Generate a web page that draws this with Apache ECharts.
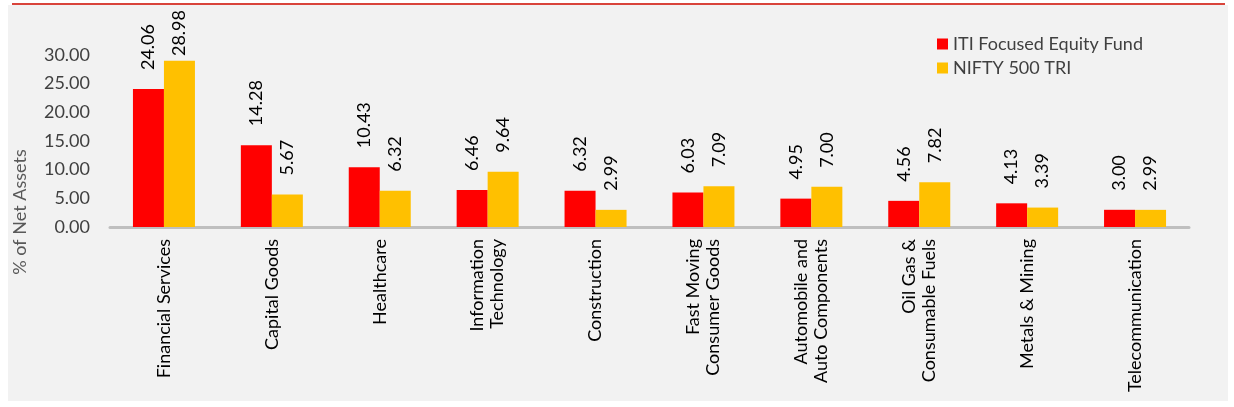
<!DOCTYPE html>
<html>
<head>
<meta charset="utf-8">
<script src="https://cdn.jsdelivr.net/npm/echarts@6/dist/echarts.min.js"></script>
<style>
html,body{margin:0;padding:0;background:#ffffff;}
#chart{width:1234px;height:407px;}
</style>
</head>
<body>
<div id="chart"></div>
<script>
const categories = [
  'Financial Services',
  'Capital Goods',
  'Healthcare',
  'Information\nTechnology',
  'Construction',
  'Fast Moving\nConsumer Goods',
  'Automobile and\nAuto Components',
  'Oil Gas &\nConsumable Fuels',
  'Metals & Mining',
  'Telecommunication'
];
const fundValues = [24.06, 14.28, 10.43, 6.46, 6.32, 6.03, 4.95, 4.56, 4.13, 3.00];
const indexValues = [28.98, 5.67, 6.32, 9.64, 2.99, 7.09, 7.00, 7.82, 3.39, 2.99];
const seriesNames = ['ITI Focused Equity Fund', 'NIFTY 500 TRI'];
const yAxisTitle = '% of Net Assets';

const FONT = 'Lato, "Open Sans", sans-serif';
const chart = echarts.init(document.getElementById('chart'));

const labelCfg = {
  show: true,
  position: 'top',
  rotate: 90,
  align: 'left',
  verticalAlign: 'middle',
  distance: 19,
  fontFamily: FONT,
  fontSize: 18,
  color: '#000000',
  formatter: p => p.value.toFixed(2)
};

chart.setOption({
  animation: false,
  backgroundColor: 'transparent',
  graphic: [
    { type: 'rect', silent: true, z: -10, shape: { x: 8, y: 5, width: 1220, height: 396 }, style: { fill: '#f2f2f2' } },
    { type: 'line', silent: true, z: -9, shape: { x1: 12, y1: 4, x2: 1225, y2: 4 }, style: { stroke: '#d9443b', lineWidth: 2 } },
    { type: 'text', silent: true, x: 20, y: 212, rotation: Math.PI / 2,
      style: { text: yAxisTitle, fill: '#595959', font: '18px ' + FONT, align: 'center', verticalAlign: 'middle' } }
  ],
  legend: {
    orient: 'vertical',
    left: 932,
    top: 30,
    itemWidth: 11,
    itemHeight: 11,
    itemGap: 6,
    icon: 'rect',
    textStyle: { fontFamily: FONT, fontSize: 18, color: '#404040' },
    data: seriesNames
  },
  grid: { left: 110, right: 45, top: 55, bottom: 180, containLabel: false },
  xAxis: {
    type: 'category',
    data: categories,
    axisLine: { show: true, lineStyle: { color: '#bfbfbf', width: 3 } },
    axisTick: { show: false },
    axisLabel: {
      rotate: 90,
      interval: 0,
      margin: 12,
      fontFamily: FONT,
      fontSize: 18,
      lineHeight: 20,
      color: '#000000'
    }
  },
  yAxis: {
    type: 'value',
    min: 0,
    max: 30,
    interval: 5,
    axisLine: { show: false },
    axisTick: { show: false },
    splitLine: { show: false },
    axisLabel: {
      margin: 20,
      fontFamily: FONT,
      fontSize: 18,
      color: '#404040',
      formatter: v => v.toFixed(2)
    }
  },
  labelLayout: function (params) {
    const r = params.labelRect;
    if (r.y < 10) {
      return { y: 10 + r.height };
    }
    return {};
  },
  series: [
    { name: seriesNames[0], type: 'bar', data: fundValues, barWidth: 31, barGap: '0%',
      itemStyle: { color: '#ff0000' }, label: labelCfg },
    { name: seriesNames[1], type: 'bar', data: indexValues, barWidth: 31, barGap: '0%',
      itemStyle: { color: '#ffc000' }, label: labelCfg }
  ]
});
</script>
</body>
</html>
